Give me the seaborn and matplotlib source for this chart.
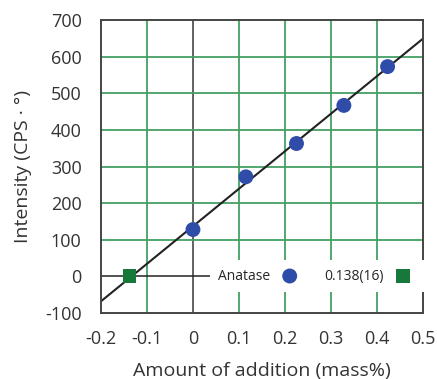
import numpy as np
import pandas as pd
import matplotlib
matplotlib.use("Agg")
import matplotlib.pyplot as plt
import seaborn as sns

# standard addition data
addition = [0.0, 0.115, 0.225, 0.328, 0.423]
intensity = [128, 272, 363, 467, 573]
intercept_x = [-0.138]
intercept_y = [0]
xticks = [-0.2, -0.1, 0, 0.1, 0.2, 0.3, 0.4, 0.5]
yticks = [-100, 0, 100, 200, 300, 400, 500, 600, 700]

sns.set_style("white")
plt.rcParams["font.family"] = ["Open Sans", "DejaVu Sans"]
plt.rcParams["axes.unicode_minus"] = False

df = pd.DataFrame({"x": addition, "y": intensity})

fig = plt.figure(figsize=(4.37, 3.79), dpi=100)
ax = fig.add_axes([0.231, 0.174, 0.737, 0.773])

green = "#45a064"
for v in xticks[1:-1]:
    if v == 0:
        ax.axvline(v, color="#555555", lw=1.3, zorder=1)
    else:
        ax.axvline(v, color=green, lw=1.3, zorder=1)
for v in yticks[1:-1]:
    if v == 0:
        ax.axhline(v, color="#222222", lw=1.1, zorder=1)
    else:
        ax.axhline(v, color=green, lw=1.3, zorder=1)

# least squares line through the points
m, b = np.polyfit(addition, intensity, 1)
ax.axline((0, b), slope=m, color="#222222", lw=1.5, zorder=2)

sns.scatterplot(data=df, x="x", y="y", ax=ax, s=115, color="#2e4ca8",
                edgecolor="none", label="Anatase", zorder=3)
sns.scatterplot(x=intercept_x, y=intercept_y, ax=ax, s=100, marker="s",
                color="#16783a", edgecolor="none", label="0.138(16)", zorder=3)

ax.set_xlim(-0.2, 0.5)
ax.set_ylim(-100, 700)
ax.set_xticks(xticks)
ax.set_xticklabels(["-0.2", "-0.1", "0", "0.1", "0.2", "0.3", "0.4", "0.5"])
ax.set_yticks(yticks)
ax.tick_params(length=0, labelsize=13, colors="#333333")
ax.tick_params(axis="y", pad=14)
ax.tick_params(axis="x", pad=12)
ax.set_xlabel("Amount of addition (mass%)", fontsize=14, color="#333333", labelpad=10)
ax.set_ylabel("Intensity (CPS · °)", fontsize=14, color="#333333", labelpad=9)
for sp in ax.spines.values():
    sp.set_color("#444444")
    sp.set_linewidth(1.4)

leg = ax.legend(loc="center", bbox_to_anchor=(0.673, 0.126), ncol=2,
                markerfirst=False, frameon=True, framealpha=1, edgecolor="none",
                fontsize=10, handletextpad=0.4, columnspacing=1.5,
                borderpad=0.6, fancybox=False)
leg.get_frame().set_linewidth(0)
leg.set_zorder(5)

fig.savefig("out.png", dpi=100)
